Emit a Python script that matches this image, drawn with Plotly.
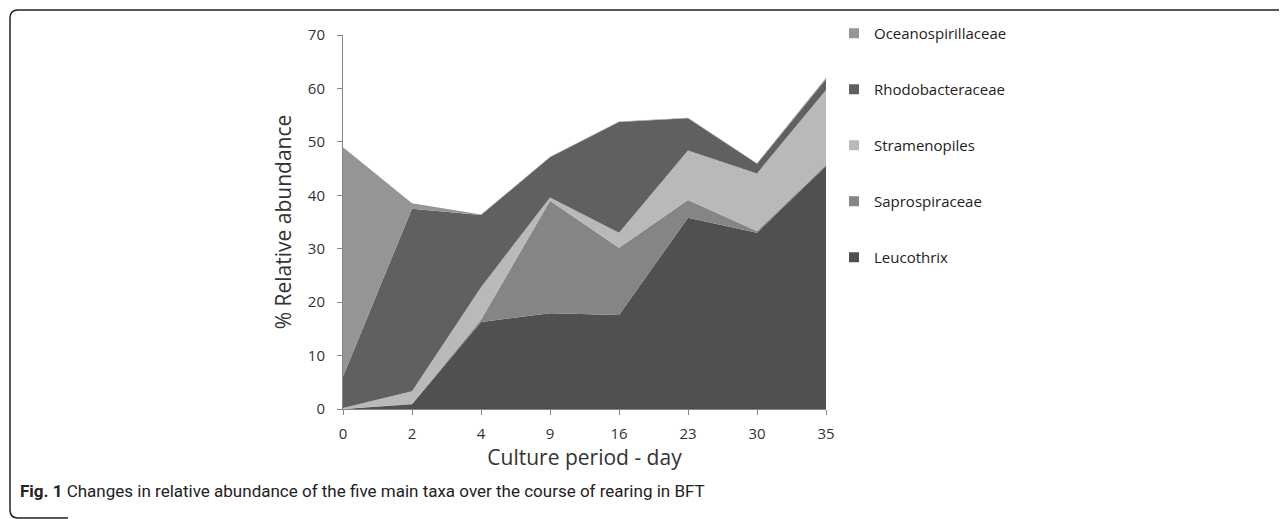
import plotly.graph_objects as go

days = ['0', '2', '4', '9', '16', '23', '30', '35']
leucothrix = [0, 0.9, 16.3, 17.9, 17.6, 35.8, 33.0, 45.5]
saprospiraceae = [0, 0.1, 0.4, 21.1, 12.6, 3.3, 0.3, 0.2]
stramenopiles = [0.2, 2.3, 6.1, 0.6, 2.8, 9.3, 10.8, 14.0]
rhodobacteraceae = [5.9, 34.2, 13.5, 7.5, 20.7, 6.0, 1.8, 2.0]
oceanospirillaceae = [42.9, 1.0, 0.1, 0.1, 0.1, 0.1, 0.1, 0.3]

series = [
    ('Leucothrix', leucothrix, '#505050'),
    ('Saprospiraceae', saprospiraceae, '#858585'),
    ('Stramenopiles', stramenopiles, '#b9b9b9'),
    ('Rhodobacteraceae', rhodobacteraceae, '#606060'),
    ('Oceanospirillaceae', oceanospirillaceae, '#959595'),
]

# page has an 8px body margin, so the figure is drawn 8px smaller
W, H = 1279, 511
L, R, T, B = 335, 818, 27, 401

xs = list(range(len(days)))
fig = go.Figure()
for name, vals, color in series:
    fig.add_trace(go.Scatter(
        x=xs, y=vals, name=name, mode='none',
        stackgroup='one', fillcolor=color,
        showlegend=False, hoverinfo='x+y+name'
    ))

# legend entries with square swatches, top entry first
for rank, (name, vals, color) in enumerate(reversed(series)):
    fig.add_trace(go.Scatter(
        x=[None], y=[None], name=name, mode='markers',
        marker=dict(symbol='square', size=10, color=color),
        legendrank=rank + 1, legendgroup=name,
    ))


def px(x):
    return (x - L) / (R - L)


def py(y):
    return (B - y) / (B - T)


r = 8
x0, y0 = 2, 2
frame = (f"M {px(x0)},{py(497)} L {px(x0)},{py(y0 + r)} "
         f"Q {px(x0)},{py(y0)} {px(x0 + r)},{py(y0)} L {px(1290)},{py(y0)}")
frame2 = (f"M {px(x0)},{py(497)} L {px(x0)},{py(502)} "
          f"Q {px(x0)},{py(510)} {px(x0 + r)},{py(510)} L {px(60)},{py(510)}")

fig.update_layout(
    width=W, height=H,
    margin=dict(l=L, r=W - R, t=T, b=H - B, autoexpand=False),
    paper_bgcolor='white', plot_bgcolor='white',
    font=dict(family='Open Sans, DejaVu Sans, sans-serif', color='#333333', size=14),
    xaxis=dict(
        range=[0, len(days) - 1], tickvals=xs, ticktext=days,
        showgrid=False, zeroline=False, showline=True, linecolor='#868686', linewidth=1,
        ticks='outside', ticklen=5, tickcolor='#868686', tickfont=dict(size=15),
        ticklabelstandoff=6,
        title=dict(text='Culture period - day', font=dict(size=21), standoff=4),
    ),
    yaxis=dict(
        range=[0, 70], tickvals=list(range(0, 71, 10)),
        showgrid=False, zeroline=False, showline=True, linecolor='#868686', linewidth=1,
        ticks='outside', ticklen=5, tickcolor='#868686', tickfont=dict(size=15),
        ticklabelstandoff=9,
        title=dict(text='% Relative abundance', font=dict(size=21), standoff=10),
    ),
    legend=dict(
        x=px(826), y=py(9), xanchor='left', yanchor='top',
        traceorder='grouped', tracegroupgap=33.5, maxheight=480,
        font=dict(size=15, color='#222222'), itemwidth=30,
    ),
    shapes=[
        dict(type='path', path=frame, xref='paper', yref='paper',
             line=dict(color='#222222', width=1.5)),
        dict(type='path', path=frame2, xref='paper', yref='paper',
             line=dict(color='#222222', width=1.5)),
    ],
    annotations=[
        dict(text='<b>Fig. 1</b> Changes in relative abundance of the five main taxa over the course of rearing in BFT',
             xref='paper', yref='paper', x=px(10), y=py(483), xanchor='left', yanchor='middle',
             showarrow=False, font=dict(size=17, family='Liberation Sans Narrow, Roboto, sans-serif', color='#222222')),
    ],
)

fig.write_html('out.html')
